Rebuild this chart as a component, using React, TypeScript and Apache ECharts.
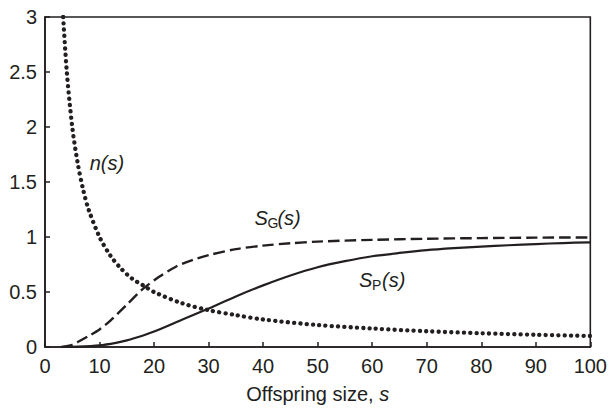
import React, { useEffect, useRef } from "react";
import * as echarts from "echarts";

const xTicks = [0, 10, 20, 30, 40, 50, 60, 70, 80, 90, 100];
const yTicks = [0, 0.5, 1, 1.5, 2, 2.5, 3];

// n(s) – dotted curve
const nS = [3.33, 4, 5, 6, 7, 8, 10, 12, 14, 16, 18, 20, 25, 30, 35, 40, 50, 60, 70, 80, 90, 100];
const nV = [3.0, 2.5, 2.0, 1.67, 1.43, 1.25, 1.0, 0.83, 0.71, 0.62, 0.56, 0.5, 0.4, 0.335, 0.29, 0.25, 0.2, 0.168, 0.143, 0.125, 0.111, 0.1];

// S_G(s) – dashed curve
const gS = [3, 5, 6, 8, 10, 12, 15, 18, 21, 24, 27, 30, 35, 40, 45, 50, 60, 70, 80, 90, 100];
const gV = [0, 0.02, 0.045, 0.1, 0.16, 0.24, 0.385, 0.53, 0.64, 0.73, 0.79, 0.835, 0.89, 0.922, 0.943, 0.958, 0.974, 0.984, 0.99, 0.994, 0.996];

// S_P(s) – solid curve
const pS = [3, 6, 10, 13, 15, 18, 20, 25, 30, 35, 40, 45, 50, 55, 60, 65, 70, 75, 80, 85, 90, 95, 100];
const pV = [0, 0.003, 0.015, 0.038, 0.06, 0.105, 0.14, 0.245, 0.35, 0.46, 0.56, 0.65, 0.725, 0.78, 0.825, 0.855, 0.88, 0.898, 0.913, 0.925, 0.936, 0.945, 0.952];

// label anchors (data coords: left edge, vertical middle)
const labelN = [8.2, 1.67];
const labelG = [38.4, 1.17];
const labelP = [57.6, 0.61];

const INK = "#231f20";
const FONT = "'Liberation Sans', Arial, Helvetica, sans-serif";

const zip = (xs: number[], ys: number[]) => xs.map((x, i) => [x, ys[i]]);

export default function App() {
  const ref = useRef<HTMLDivElement>(null);
  useEffect(() => {
    if (!ref.current) return;
    const chart = echarts.init(ref.current, undefined, { renderer: "svg" });
    const axisCommon = {
      axisLine: { show: true, lineStyle: { color: INK, width: 1.6 } },
      axisTick: { show: true, inside: true, length: 5, lineStyle: { color: INK, width: 1.5 } },
      splitLine: { show: false },
    };
    chart.setOption({
      animation: false,
      backgroundColor: "#fff",
      grid: {
        left: 45,
        right: 17,
        top: 17,
        bottom: 62,
        show: true,
        borderColor: INK,
        borderWidth: 1.6,
        backgroundColor: "transparent",
      },
      xAxis: {
        type: "value",
        min: xTicks[0],
        max: xTicks[xTicks.length - 1],
        interval: 10,
        ...axisCommon,
        axisLabel: { color: INK, fontSize: 20, fontFamily: FONT, margin: 9 },
        name: "{a|Offspring size, }{b|s}",
        nameLocation: "middle",
        nameGap: 37,
        nameTextStyle: {
          rich: {
            a: { fontSize: 20, fontFamily: FONT, color: INK },
            b: { fontSize: 20, fontFamily: FONT, color: INK, fontStyle: "italic" },
          },
        },
      },
      yAxis: {
        type: "value",
        min: yTicks[0],
        max: yTicks[yTicks.length - 1],
        interval: 0.5,
        ...axisCommon,
        axisLabel: { color: INK, fontSize: 20, fontFamily: FONT, margin: 8 },
      },
      series: [
        {
          type: "line",
          data: zip(nS, nV),
          smooth: 0.3,
          showSymbol: false,
          lineStyle: { color: INK, width: 4.3, type: [0.1, 6.2], cap: "round" },
        },
        {
          type: "line",
          data: zip(gS, gV),
          smooth: 0.3,
          showSymbol: false,
          lineStyle: { color: INK, width: 2.4, type: [11.5, 5] },
        },
        {
          type: "line",
          data: zip(pS, pV),
          smooth: 0.3,
          showSymbol: false,
          lineStyle: { color: INK, width: 2.2, type: "solid" },
        },
      ],
    });

    const px = (p: number[]) => chart.convertToPixel({ gridIndex: 0 }, p) as number[];
    const sub = (anchor: number[], letter: string) => {
      const [x, y] = px(anchor);
      return {
        type: "group",
        x,
        y,
        children: [
          { type: "text", x: 0, y: 0, style: { text: "S", font: `italic 20px ${FONT}`, fill: INK, verticalAlign: "middle", textAlign: "left" } },
          { type: "text", x: 13, y: 5, style: { text: letter, font: `14px ${FONT}`, fill: INK, verticalAlign: "middle", textAlign: "left" } },
          { type: "text", x: 23, y: 0, style: { text: "(s)", font: `italic 20px ${FONT}`, fill: INK, verticalAlign: "middle", textAlign: "left" } },
        ],
      };
    };
    const [nx, ny] = px(labelN);
    chart.setOption({
      graphic: [
        { type: "text", x: nx, y: ny, style: { text: "n(s)", font: `italic 20px ${FONT}`, fill: INK, verticalAlign: "middle", textAlign: "left" } },
        sub(labelG, "G"),
        sub(labelP, "P"),
      ],
    });
    return () => chart.dispose();
  }, []);
  return <div ref={ref} style={{ position: "fixed", left: 0, top: 0, width: 610, height: 409 }} />;
}
